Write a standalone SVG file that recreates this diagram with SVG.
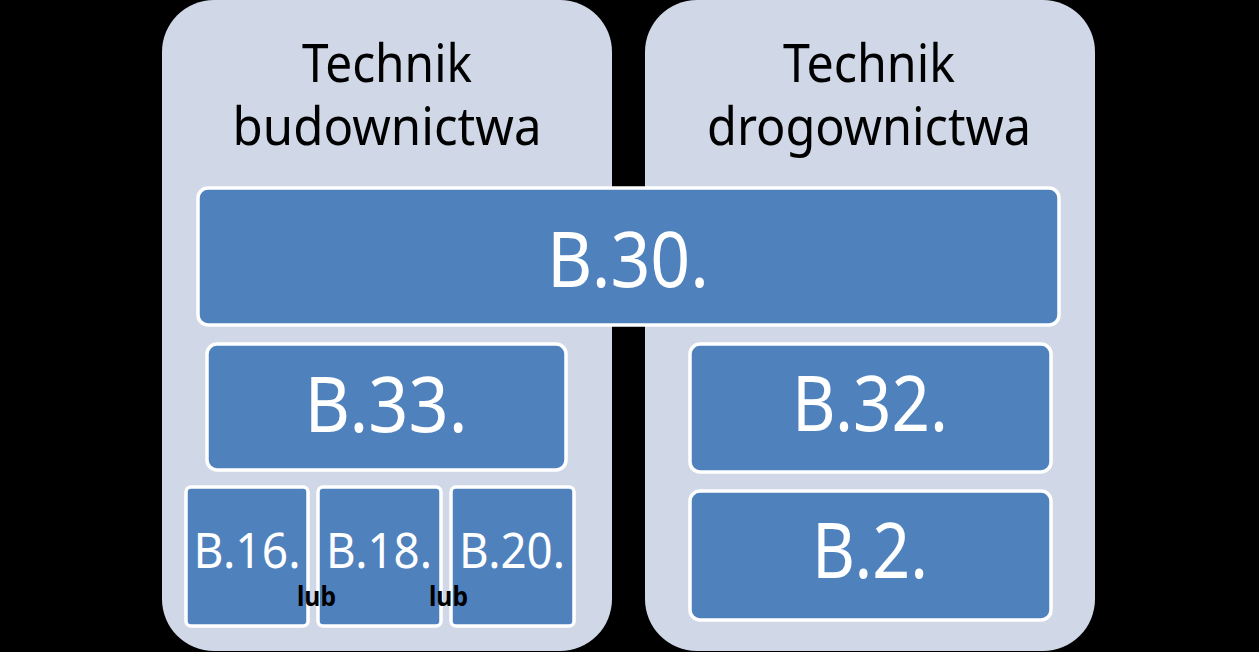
<svg xmlns="http://www.w3.org/2000/svg" width="1259" height="652" viewBox="0 0 1259 652">
<style>
.panel{fill:#d0d8e8;}
.box{fill:#4f81bd;stroke:#ffffff;stroke-width:3.5;}
.ttl{font-family:"Noto Sans","Liberation Sans",sans-serif;font-size:52px;fill:#000;text-anchor:middle;}
.big{font-family:"Noto Sans","Liberation Sans",sans-serif;font-size:77px;fill:#fff;text-anchor:middle;}
.sm{font-family:"Noto Sans","Liberation Sans",sans-serif;font-size:49px;fill:#fff;text-anchor:middle;}
.lub{font-family:"Noto Sans","Liberation Sans",sans-serif;font-size:27px;font-weight:bold;fill:#000;text-anchor:middle;}
</style>
<rect width="1259" height="652" fill="#000"/>
<g id="panel-budownictwa">
<rect class="panel" x="162" y="0" width="450" height="651" rx="52"/>
<text class="ttl" x="387" y="82" textLength="170" lengthAdjust="spacingAndGlyphs">Technik</text>
<text class="ttl" x="387" y="145" textLength="309" lengthAdjust="spacingAndGlyphs">budownictwa</text>
</g>
<g id="panel-drogownictwa">
<rect class="panel" x="645" y="0" width="450" height="651" rx="52"/>
<text class="ttl" x="869" y="82" textLength="172" lengthAdjust="spacingAndGlyphs">Technik</text>
<text class="ttl" x="869" y="145" textLength="324" lengthAdjust="spacingAndGlyphs">drogownictwa</text>
</g>
<g id="connectors"></g>
<g id="b30">
<rect class="box" x="198" y="188" width="861" height="137" rx="10"/>
<text class="big" x="628" y="287" textLength="162" lengthAdjust="spacingAndGlyphs">B.30.</text>
</g>
<g id="b33">
<rect class="box" x="207" y="344" width="359" height="126" rx="10"/>
<text class="big" x="386" y="432" textLength="163" lengthAdjust="spacingAndGlyphs">B.33.</text>
</g>
<g id="b32">
<rect class="box" x="690" y="344" width="361" height="128" rx="10"/>
<text class="big" x="870" y="431" textLength="156" lengthAdjust="spacingAndGlyphs">B.32.</text>
</g>
<g id="b2">
<rect class="box" x="690" y="491" width="361" height="129" rx="10"/>
<text class="big" x="870" y="578" textLength="116" lengthAdjust="spacingAndGlyphs">B.2.</text>
</g>
<g id="b16">
<rect class="box" x="186" y="487" width="122" height="139" rx="5"/>
<text class="sm" x="247" y="568" textLength="107" lengthAdjust="spacingAndGlyphs">B.16.</text>
</g>
<g id="b18">
<rect class="box" x="318" y="487" width="123" height="139" rx="5"/>
<text class="sm" x="379" y="568" textLength="106" lengthAdjust="spacingAndGlyphs">B.18.</text>
</g>
<g id="b20">
<rect class="box" x="451" y="487" width="123" height="139" rx="5"/>
<text class="sm" x="512" y="568" textLength="106" lengthAdjust="spacingAndGlyphs">B.20.</text>
</g>
<g id="lub-labels">
<text class="lub" x="316.5" y="606" textLength="39" lengthAdjust="spacingAndGlyphs">lub</text>
<text class="lub" x="448.5" y="606" textLength="39" lengthAdjust="spacingAndGlyphs">lub</text>
</g>
</svg>
